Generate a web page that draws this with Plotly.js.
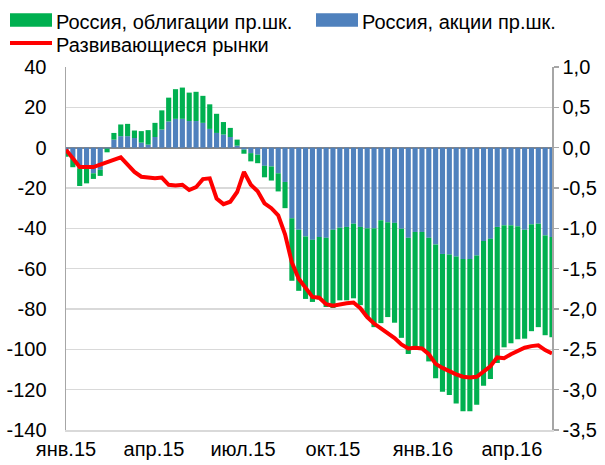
<!DOCTYPE html>
<html>
<head>
<meta charset="utf-8">
<script src="https://cdn.plot.ly/plotly-3.0.1.min.js"></script>
<style>html,body{margin:0;padding:0;background:#fff;}#chart{width:605px;height:465px;}</style>
</head>
<body>
<div id="chart"></div>
<script>
// Weekly observations
const weeks = [
 '2015-01-01','2015-01-08','2015-01-15','2015-01-22','2015-01-29','2015-02-05','2015-02-12','2015-02-19','2015-02-26','2015-03-05',
 '2015-03-12','2015-03-19','2015-03-26','2015-04-02','2015-04-09','2015-04-16','2015-04-23','2015-04-30','2015-05-07','2015-05-14',
 '2015-05-21','2015-05-28','2015-06-04','2015-06-11','2015-06-18','2015-06-25','2015-07-02','2015-07-09','2015-07-16','2015-07-23',
 '2015-07-30','2015-08-06','2015-08-13','2015-08-20','2015-08-27','2015-09-03','2015-09-10','2015-09-17','2015-09-24','2015-10-01',
 '2015-10-08','2015-10-15','2015-10-22','2015-10-29','2015-11-05','2015-11-12','2015-11-19','2015-11-26','2015-12-03','2015-12-10',
 '2015-12-17','2015-12-24','2015-12-31','2016-01-07','2016-01-14','2016-01-21','2016-01-28','2016-02-04','2016-02-11','2016-02-18',
 '2016-02-25','2016-03-03','2016-03-10','2016-03-17','2016-03-24','2016-03-31','2016-04-07','2016-04-14','2016-04-21','2016-04-28',
 '2016-05-05','2016-05-12'
];
// Россия, акции пр.шк. (left axis)
const stocks = [
 -2.5, -5.2, -10.2, -10.2, -12.7, -11, -0.5, 4, 5.7, 5.7,
 4.8, 2.5, 1.5, 5.3, 9, 13, 14.3, 14.3, 13.2, 13.2,
 12.3, 9.3, 7.3, 6.5, 5.3, 1, -1, -2.7, -3.5, -9,
 -9.3, -12.7, -17, -35, -40.7, -44, -45.7, -44.3, -44.7, -40.7,
 -39.7, -39.3, -37.7, -39.3, -40, -40, -36, -37, -37.3, -40.2,
 -44.7, -41.8, -41.8, -44.7, -48, -52.7, -53, -54, -55.2, -55.2,
 -53.5, -46.3, -45.2, -39.3, -38.5, -38.5, -39, -40.7, -38, -37.7,
 -43.5, -44.3
];
// Россия, облигации пр.шк. (left axis, stacked beyond stocks)
const bonds = [
 -2, -4.5, -8.8, -7.5, -2.8, -3, -1.8, 3.3, 5.8, 6.1,
 3.7, 5.7, 7.2, 7, 9.5, 11.8, 14.7, 15.5, 14.1, 14.5,
 13.4, 12.2, 9.5, 6.2, 4.5, 3, -2, -4.1, -4.2, -5.7,
 -7, -9, -13, -31, -30.3, -31, -30.8, -31, -34.3, -38.8,
 -36, -36.4, -37, -38.8, -44, -49, -51, -47, -49.5, -54.1,
 -57.6, -57.5, -58.4, -61.3, -66.3, -68.3, -69.7, -72.8, -75.5, -75.5,
 -74, -71.7, -69.5, -67.5, -60.5, -58.5, -56, -54, -53, -51.3,
 -49.5, -49.7
];
// Развивающиеся рынки (right axis)
const emerging = [
 -0.025, -0.14, -0.24, -0.24, -0.24, -0.21, -0.18, -0.15, -0.12, -0.21,
 -0.30, -0.36, -0.375, -0.38, -0.37, -0.46, -0.47, -0.46, -0.525, -0.49,
 -0.39, -0.38, -0.63, -0.70, -0.67, -0.55, -0.30, -0.46, -0.54, -0.69,
 -0.75, -0.84, -1.075, -1.425, -1.625, -1.74, -1.85, -1.86, -1.94, -1.96,
 -1.94, -1.93, -1.92, -1.99, -2.10, -2.18, -2.24, -2.30, -2.36, -2.44,
 -2.49, -2.48, -2.49, -2.56, -2.68, -2.73, -2.775, -2.81, -2.84, -2.85,
 -2.84, -2.775, -2.71, -2.60, -2.61, -2.56, -2.52, -2.48, -2.46, -2.45,
 -2.51, -2.55
];
const seriesNames = ['Россия, облигации пр.шк.', 'Россия, акции пр.шк.', 'Развивающиеся рынки'];
const xTickVals = ['2015-01-01','2015-04-01','2015-07-01','2015-10-01','2016-01-01','2016-04-01'];
const xTickText = ['янв.15','апр.15','июл.15','окт.15','янв.16','апр.16'];
const leftTickVals = [40, 20, 0, -20, -40, -60, -80, -100, -120, -140];
const leftTickText = ['40','20','0','-20','-40','-60','-80','-100','-120','-140'];
const rightTickVals = [1, 0.5, 0, -0.5, -1, -1.5, -2, -2.5, -3, -3.5];
const rightTickText = ['1,0','0,5','0,0','-0,5','-1,0','-1,5','-2,0','-2,5','-3,0','-3,5'];

const GREEN = '#00b050', BLUE = '#4f81bd', RED = '#ff0000';
const FONT = 'Liberation Sans, Arial, sans-serif';

const traces = [
  {type:'bar', x: weeks, y: stocks, name: seriesNames[1], marker:{color: BLUE}, yaxis:'y', showlegend:false},
  {type:'bar', x: weeks, y: bonds, name: seriesNames[0], marker:{color: GREEN}, yaxis:'y', showlegend:false},
  {type:'scatter', mode:'lines', x: weeks, y: emerging, name: seriesNames[2], line:{color: RED, width:4}, yaxis:'y2', showlegend:false}
];

// plot area in pixels: left 66, right 552, top 67, bottom 430
const PL = 66, PR = 552, PT = 67, PB = 430;
const px = v => (v - PL) / (PR - PL);
const py = v => (PB - v) / (PB - PT);

const layout = {
  width: 605, height: 465,
  margin: {l: PL, r: 605 - PR, t: PT, b: 465 - PB, pad: 0},
  paper_bgcolor: '#fff', plot_bgcolor: '#fff',
  font: {family: FONT, size: 20, color: '#000'},
  barmode: 'relative', bargap: 0.25,
  showlegend: false,
  xaxis: {
    type: 'date', range: ['2015-01-01', '2016-05-12'],
    tickvals: xTickVals, ticktext: xTickText, ticks: '', showgrid: false,
    showline: true, linecolor: '#d9d9d9', linewidth: 1.5, zeroline: false,
    ticklabelstandoff: 0, tickfont: {size: 20}
  },
  yaxis: {
    range: [-140, 40], tickvals: leftTickVals, ticktext: leftTickText,
    showgrid: true, gridcolor: '#d9d9d9', gridwidth: 1.5,
    zeroline: true, zerolinecolor: '#868686', zerolinewidth: 2,
    showline: true, linecolor: '#a6a6a6', linewidth: 1.5, ticks: '',
    ticklabelstandoff: 14, tickfont: {size: 20}, layer: 'above traces'
  },
  yaxis2: {
    range: [-3.5, 1.0], overlaying: 'y', side: 'right', tickvals: rightTickVals, ticktext: rightTickText,
    showgrid: false, zeroline: false, showline: true, linecolor: '#a6a6a6', linewidth: 1.5,
    ticks: 'outside', ticklen: 5, tickcolor: '#a6a6a6', tickwidth: 1.5,
    ticklabelstandoff: 0, tickfont: {size: 20}
  },
  shapes: [
    {type:'rect', xref:'paper', yref:'paper', x0: px(10), x1: px(52), y0: py(26.7), y1: py(13.3), fillcolor: GREEN, line:{width:0}},
    {type:'rect', xref:'paper', yref:'paper', x0: px(316), x1: px(358), y0: py(26.7), y1: py(13.3), fillcolor: BLUE, line:{width:0}},
    {type:'line', xref:'paper', yref:'paper', x0: px(10), x1: px(52), y0: py(43), y1: py(43), line:{color: RED, width:4}}
  ],
  annotations: [
    {xref:'paper', yref:'paper', x: px(54), y: py(22.5), xanchor:'left', yanchor:'middle', text: seriesNames[0], showarrow:false, font:{size:20}},
    {xref:'paper', yref:'paper', x: px(360), y: py(22.5), xanchor:'left', yanchor:'middle', text: seriesNames[1], showarrow:false, font:{size:20}},
    {xref:'paper', yref:'paper', x: px(54), y: py(45), xanchor:'left', yanchor:'middle', text: seriesNames[2], showarrow:false, font:{size:20}}
  ]
};

Plotly.newPlot('chart', traces, layout, {displayModeBar: false, staticPlot: true});
</script>
</body>
</html>
